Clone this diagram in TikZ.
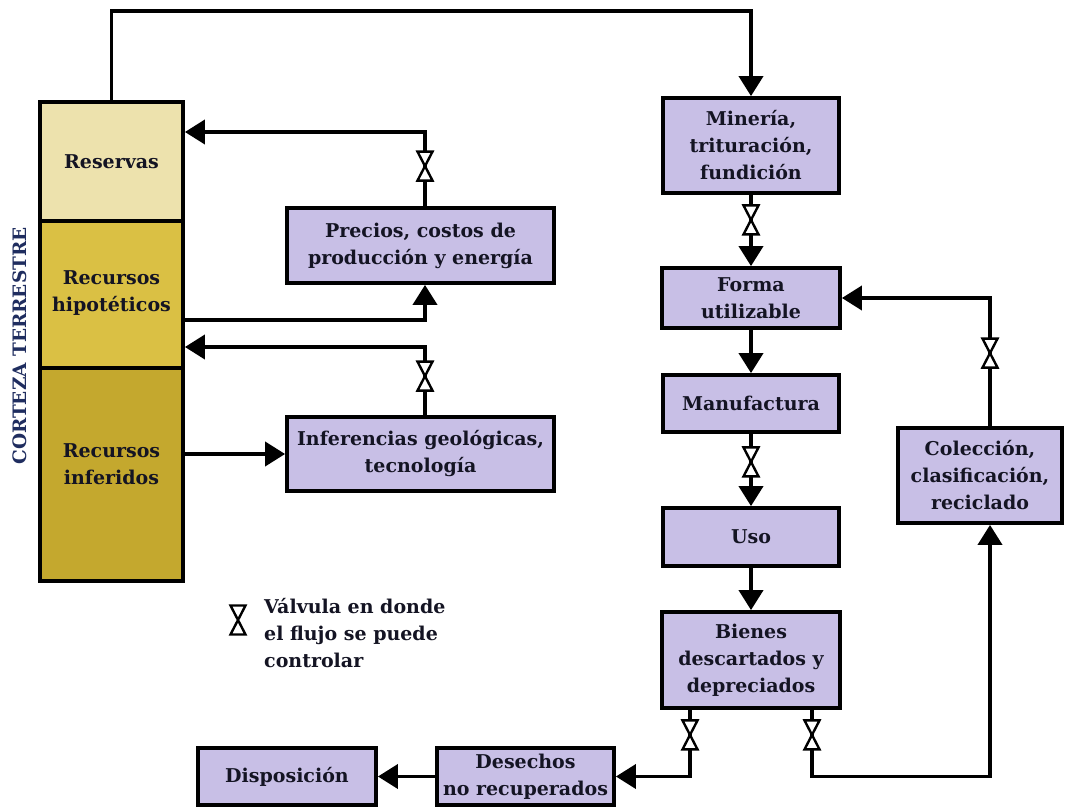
\documentclass[tikz,border=0pt]{standalone}
\usepackage{fontspec}
\setmainfont{DejaVu Serif}
\usetikzlibrary{arrows.meta,calc}
\definecolor{lav}{RGB}{200,191,230}
\definecolor{resc}{RGB}{237,226,173}
\definecolor{hipc}{RGB}{218,192,68}
\definecolor{infc}{RGB}{196,168,46}
\definecolor{navy}{RGB}{31,45,95}
\definecolor{txt}{RGB}{20,20,35}
\begin{document}
\begin{tikzpicture}[x=1pt,y=-1pt,
  box/.style={draw=black, line width=3.8pt, fill=lav, align=center,
    font=\fontsize{19}{27}\selectfont\bfseries, text=txt, inner sep=0pt},
  flow/.style={line width=3.8pt, -{Triangle[width=24pt,length=20pt]}},
  valve/.pic={\draw[line width=2.4pt, fill=white, line join=miter]
    (-7.5,-14.5) -- (7.5,-14.5) -- (0,0) -- cycle
    (-7.5,14.5) -- (7.5,14.5) -- (0,0) -- cycle;}
]
\useasboundingbox (0,0) rectangle (1067,808);

% crust layers
\node[box, minimum width=143pt, minimum height=119pt, fill=resc] (res) at (111.5,161.5) {Reservas};
\node[box, minimum width=143pt, minimum height=147pt, fill=hipc] (hip) at (111.5,294.5) {Recursos\\hipotéticos\\[-21pt]};
\node[box, minimum width=143pt, minimum height=213pt, fill=infc] (inf) at (111.5,474.5) {Recursos\\inferidos\\[-7pt]};
\node[rotate=90, font=\fontsize{18.5}{20}\selectfont\bfseries, text=navy] (crust) at (20,346) {CORTEZA TERRESTRE};

% process boxes
\node[box, minimum width=267pt, minimum height=75pt] (prec) at (420.5,245.5) {Precios, costos de\\producción y energía};
\node[box, minimum width=267pt, minimum height=74pt] (infer) at (420.5,454) {Inferencias geológicas,\\tecnología};
\node[box, minimum width=176pt, minimum height=95pt] (min) at (751,145.5) {Minería,\\trituración,\\fundición};
\node[box, minimum width=178pt, minimum height=60pt] (forma) at (751,298) {Forma\\utilizable};
\node[box, minimum width=176pt, minimum height=57pt] (manu) at (751,403.5) {Manufactura};
\node[box, minimum width=176pt, minimum height=58pt] (uso) at (751,537) {Uso};
\node[box, minimum width=178pt, minimum height=96pt] (bien) at (751,660) {Bienes\\descartados y\\depreciados};
\node[box, minimum width=164pt, minimum height=95pt] (col) at (980,475.5) {Colección,\\clasificación,\\reciclado};
\node[box, minimum width=177pt, minimum height=57pt] (des) at (525.5,776.5) {Desechos\\no recuperados};
\node[box, minimum width=178pt, minimum height=57pt] (disp) at (287,776.5) {Disposición};

% helper points on box edges
\coordinate (bl) at ([xshift=-61pt]bien.south);
\coordinate (br) at ([xshift=61pt]bien.south);
\coordinate (cb) at ([xshift=10pt]col.south);
\coordinate (ct) at ([xshift=10pt]col.north);

% connectors
\draw[flow] (res.north) -- ++(0,-89) -| (min.north);
\draw[flow] ([xshift=4.5pt]prec.north) |- ([yshift=29.5pt]res.east);
\draw[flow] ([yshift=-25.5pt]hip.east) -| ([xshift=4.5pt]prec.south);
\draw[flow] ([xshift=4.5pt]infer.north) |- ([yshift=-52.5pt]hip.east);
\draw[flow] (inf.east |- infer.west) -- (infer.west);
\draw[flow] (min.south) -- (forma.north);
\draw[flow] (forma.south) -- (manu.north);
\draw[flow] (manu.south) -- (uso.north);
\draw[flow] (uso.south) -- (bien.north);
\draw[flow] (bl) |- (des.east);
\draw[flow] (br) |- (cb |- des.east) -- (cb);
\draw[flow] (ct) |- (forma.east);
\draw[flow] (des.west) -- (disp.east);

% control valves
\pic at ($(prec.north)+(4.5,-40)$) {valve};
\pic at ($(infer.north)+(4.5,-39)$) {valve};
\pic at ($(min.south)+(0,25)$) {valve};
\pic at ($(manu.south)+(0,28)$) {valve};
\pic at ($(ct)+(0,-73)$) {valve};
\pic at ($(bl)+(0,25)$) {valve};
\pic at ($(br)+(0,25)$) {valve};

% legend
\pic at (238,620) {valve};
\node[anchor=north west, align=left, font=\fontsize{19}{27}\selectfont\bfseries, text=txt, inner sep=0pt] (leg) at (264,598) {Válvula en donde\\el flujo se puede\\controlar};
\end{tikzpicture}
\end{document}
